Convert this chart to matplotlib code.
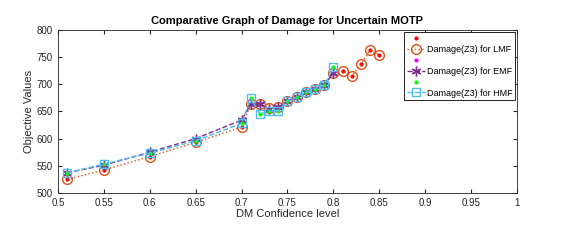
import numpy as np
import matplotlib.pyplot as plt

plt.rcParams['font.family'] = ['Liberation Sans', 'DejaVu Sans']

conf_lmf = [0.51, 0.55, 0.60, 0.65, 0.70, 0.71, 0.72, 0.73, 0.74, 0.75, 0.76, 0.77, 0.78, 0.79, 0.80,
            0.81, 0.82, 0.83, 0.84, 0.85]
damage_lmf = [525, 542, 567, 593, 621, 663, 663, 656, 658, 669, 676, 685, 692, 698, 721,
              724, 715, 737, 763, 754]

conf_emf = [0.51, 0.55, 0.60, 0.65, 0.70, 0.71, 0.72, 0.73, 0.74, 0.75, 0.76, 0.77, 0.78, 0.79, 0.80]
damage_emf = [537, 551, 575, 600, 634, 663, 663, 655, 658, 669, 676, 685, 692, 698, 721]

conf_hmf = [0.51, 0.55, 0.60, 0.65, 0.70, 0.71, 0.72, 0.73, 0.74, 0.75, 0.76, 0.77, 0.78, 0.79, 0.80]
damage_hmf = [537, 553, 573, 596, 628, 674, 645, 651, 650, 669, 676, 685, 692, 698, 731]

c_lmf = '#D95319'
c_emf = '#7E2F8E'
c_hmf = '#4DBEEE'

fig = plt.figure(figsize=(5.62, 2.42), dpi=100)
ax = fig.add_axes([0.103, 0.203, 0.817, 0.673])

ax.plot(conf_lmf, damage_lmf, '.', color='red', ms=4, label=' ')
ax.plot(conf_lmf, damage_lmf, ':', color=c_lmf, marker='o', mfc='none', mec=c_lmf,
        ms=7, lw=1, label='Damage(Z3) for LMF')
ax.plot(conf_emf, damage_emf, '.', color='magenta', ms=4, label=' ')
ax.plot(conf_emf, damage_emf, '--', color=c_emf, marker=(6, 2, 0), ms=7, mew=1, lw=1,
        label='Damage(Z3) for EMF')
ax.plot(conf_hmf, damage_hmf, '.', color='#00FF00', ms=4, label=' ')
ax.plot(conf_hmf, damage_hmf, '--', color=c_hmf, marker='s', mfc='none', mec=c_hmf,
        ms=6, lw=1, label='Damage(Z3) for HMF')

ax.set_xlim(0.5, 1.0)
ax.set_ylim(500, 800)
ax.set_xticks(np.arange(0.5, 1.001, 0.05))
ax.set_xticklabels(['0.5', '0.55', '0.6', '0.65', '0.7', '0.75', '0.8', '0.85', '0.9', '0.95', '1'])
ax.set_yticks(np.arange(500, 801, 50))
ax.tick_params(direction='in', top=True, right=True, labelsize=7, colors='#262626', length=3)
for s in ax.spines.values():
    s.set_color('#262626')
    s.set_linewidth(0.6)

ax.set_xlabel('DM Confidence level', fontsize=8, color='#262626', labelpad=1)
ax.set_ylabel('Objective Values', fontsize=8, color='#262626', labelpad=2)
ax.set_title('Comparative Graph of Damage for Uncertain MOTP', fontsize=8, fontweight='bold', pad=4)

leg = ax.legend(loc='upper right', fontsize=6.5, frameon=True, fancybox=False,
                edgecolor='black', framealpha=1, borderpad=0.3, labelspacing=0.2,
                handlelength=2, handletextpad=0.2, borderaxespad=0.2)
leg.get_frame().set_linewidth(0.6)

fig.savefig('out.png', dpi=100)
